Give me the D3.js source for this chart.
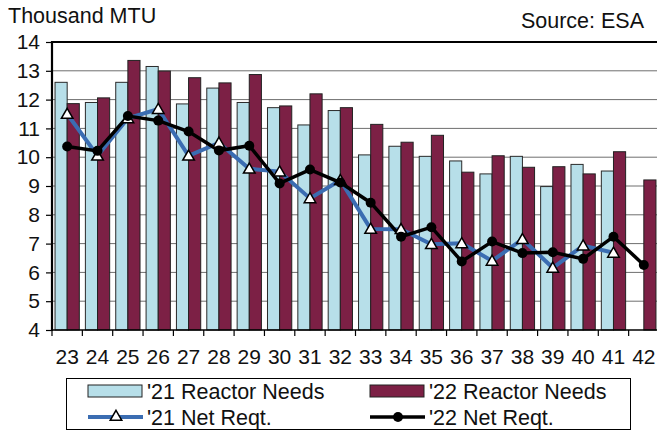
<!DOCTYPE html>
<html>
<head>
<meta charset="utf-8">
<script src="https://cdn.jsdelivr.net/npm/d3@7"></script>
<style>
  body { margin: 0; background: #fff; }
  svg { display: block; font-family: "Liberation Sans", Arial, sans-serif; }
</style>
</head>
<body>
<div id="chart"></div>
<script>
// years (20xx)
const years = ["23","24","25","26","27","28","29","30","31","32","33","34","35","36","37","38","39","40","41","42"];
const needs21 = [12.6,11.9,12.6,13.15,11.85,12.4,11.9,11.72,11.12,11.62,10.08,10.38,10.03,9.87,9.42,10.03,8.98,9.75,9.52,null];
const needs22 = [11.86,12.06,13.36,12.99,12.76,12.58,12.87,11.78,12.2,11.72,11.14,10.52,10.76,9.48,10.05,9.65,9.67,9.42,10.19,9.21];
const net21 = [11.5,10.05,11.35,11.67,10.05,10.5,9.6,9.5,8.57,9.2,7.51,7.5,6.98,7.01,6.4,7.15,6.16,6.93,6.68,null];
const net22 = [10.37,10.22,11.43,11.27,10.89,10.23,10.4,9.09,9.57,9.12,8.42,7.24,7.57,6.38,7.07,6.67,6.7,6.47,7.24,6.26];
const yTicks = [4,5,6,7,8,9,10,11,12,13,14];

const W = 657, H = 433;
const pLeft = 52, pTop = 42, pBottom = 330;
const step = 30.35;

const svg = d3.select("#chart").append("svg").attr("width", W).attr("height", H);

const x = d3.scaleBand().domain(years).range([pLeft, pLeft + step * years.length]);
const y = d3.scaleLinear().domain([4, 14]).range([pBottom, pTop]);
const bw = x.bandwidth() * 0.4;

// gridlines
svg.append("g").selectAll("line").data(yTicks.slice(1, -1)).join("line")
  .attr("x1", pLeft).attr("x2", W)
  .attr("y1", d => y(d)).attr("y2", d => y(d))
  .attr("stroke", "#6e6e6e").attr("stroke-width", 1);

// bars
const mid = d => x(d) + x.bandwidth() / 2;
svg.append("g").selectAll("rect").data(years.map((d, i) => [d, needs21[i]]).filter(d => d[1] != null)).join("rect")
  .attr("x", d => mid(d[0]) - bw).attr("width", bw)
  .attr("y", d => y(d[1])).attr("height", d => pBottom - y(d[1]))
  .attr("fill", "#b7dfe9").attr("stroke", "#2a2a2a").attr("stroke-width", 1);
svg.append("g").selectAll("rect").data(years.map((d, i) => [d, needs22[i]])).join("rect")
  .attr("x", d => mid(d[0])).attr("width", bw)
  .attr("y", d => y(d[1])).attr("height", d => pBottom - y(d[1]))
  .attr("fill", "#7c2045").attr("stroke", "#222").attr("stroke-width", 1);

// y axis
const yAxis = svg.append("g").attr("transform", `translate(${pLeft},0)`)
  .call(d3.axisLeft(y).tickValues(yTicks).tickSize(6).tickPadding(6));
yAxis.select(".domain").remove();
yAxis.selectAll("line").attr("stroke", "#000").attr("stroke-width", 1.2);
yAxis.selectAll("text").attr("font-size", 21).attr("fill", "#111")
  .attr("font-family", "Liberation Sans, Arial, sans-serif");

// x axis (ticks at category boundaries)
const xg = svg.append("g");
xg.append("line").attr("x1", pLeft).attr("x2", W).attr("y1", pBottom).attr("y2", pBottom)
  .attr("stroke", "#000").attr("stroke-width", 1.5);
xg.selectAll("line.tk").data(years).join("line").attr("class", "tk")
  .attr("x1", d => x(d)).attr("x2", d => x(d)).attr("y1", pBottom).attr("y2", pBottom + 6)
  .attr("stroke", "#000").attr("stroke-width", 1.2);
xg.selectAll("text").data(years).join("text")
  .attr("x", d => mid(d)).attr("y", 364).attr("text-anchor", "middle")
  .attr("font-size", 21).attr("fill", "#111").text(d => d);

// frame: left & top
svg.append("line").attr("x1", pLeft).attr("x2", pLeft).attr("y1", pTop - 1).attr("y2", pBottom + 1)
  .attr("stroke", "#000").attr("stroke-width", 2.2);
svg.append("line").attr("x1", pLeft).attr("x2", W).attr("y1", pTop).attr("y2", pTop)
  .attr("stroke", "#000").attr("stroke-width", 2.2);

// lines
const line = d3.line().defined(d => d[1] != null).x(d => mid(d[0])).y(d => y(d[1]));
const pts21 = years.map((d, i) => [d, net21[i]]).filter(d => d[1] != null);
const pts22 = years.map((d, i) => [d, net22[i]]);
svg.append("path").datum(pts21).attr("d", line).attr("fill", "none")
  .attr("stroke", "#3b6db2").attr("stroke-width", 4);
svg.append("path").datum(pts22).attr("d", line).attr("fill", "none")
  .attr("stroke", "#000").attr("stroke-width", 3.5);
const tri = d3.symbol().type(d3.symbolTriangle).size(58);
svg.append("g").selectAll("path").data(pts21).join("path")
  .attr("d", tri).attr("transform", d => `translate(${mid(d[0])},${y(d[1]) + 1})`)
  .attr("fill", "#fff").attr("stroke", "#000").attr("stroke-width", 1.5);
svg.append("g").selectAll("circle").data(pts22).join("circle")
  .attr("cx", d => mid(d[0])).attr("cy", d => y(d[1])).attr("r", 5)
  .attr("fill", "#000");

// titles
svg.append("text").attr("x", 8).attr("y", 23).attr("font-size", 21.5).attr("fill", "#111").text("Thousand MTU");
svg.append("text").attr("x", 644).attr("y", 28).attr("text-anchor", "end").attr("font-size", 21.5).attr("fill", "#111").text("Source: ESA");

// legend
const lg = svg.append("g");
lg.append("rect").attr("x", 66.5).attr("y", 378.5).attr("width", 564).attr("height", 51)
  .attr("fill", "#fff").attr("stroke", "#000").attr("stroke-width", 1);
const legendItems = [
  { label: "'21 Reactor Needs", kind: "bar", color: "#b7dfe9", x: 88, y: 391 },
  { label: "'22 Reactor Needs", kind: "bar", color: "#7c2045", x: 370, y: 391 },
  { label: "'21 Net Reqt.", kind: "tri", color: "#3b6db2", x: 88, y: 417 },
  { label: "'22 Net Reqt.", kind: "dot", color: "#000", x: 370, y: 417 }
];
legendItems.forEach(it => {
  if (it.kind === "bar") {
    lg.append("rect").attr("x", it.x).attr("y", it.y - 6).attr("width", 54).attr("height", 12)
      .attr("fill", it.color).attr("stroke", "#222").attr("stroke-width", 1);
  } else {
    lg.append("line").attr("x1", it.x).attr("x2", it.x + 55).attr("y1", it.y).attr("y2", it.y)
      .attr("stroke", it.color).attr("stroke-width", it.kind === "tri" ? 4 : 3.5);
    if (it.kind === "tri") {
      lg.append("path").attr("d", tri).attr("transform", `translate(${it.x + 28},${it.y})`)
        .attr("fill", "#fff").attr("stroke", "#000").attr("stroke-width", 1.5);
    } else {
      lg.append("circle").attr("cx", it.x + 28).attr("cy", it.y).attr("r", 5).attr("fill", "#000");
    }
  }
  lg.append("text").attr("x", it.x + 59).attr("y", it.y + 7.5).attr("font-size", 21.5)
    .attr("fill", "#111").text(it.label);
});
</script>
</body>
</html>
